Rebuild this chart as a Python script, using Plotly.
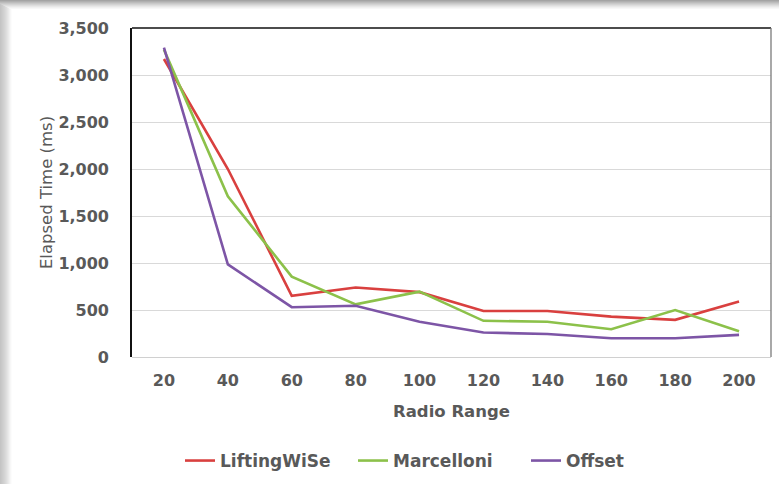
import plotly.graph_objects as go

radio_range = ["20", "40", "60", "80", "100", "120", "140", "160", "180", "200"]
lifting_wise = [3170, 2000, 650, 740, 690, 490, 490, 430, 395, 590]
marcelloni = [3270, 1710, 855, 560, 695, 385, 375, 295, 500, 275]
offset = [3290, 985, 530, 545, 375, 260, 245, 200, 200, 235]
y_ticks = [0, 500, 1000, 1500, 2000, 2500, 3000, 3500]

W, H = 779, 484
L, R, T, B = 132, 8, 28, 127
PW, PH = W - L - R, H - T - B

def px(x):
    return (x - L) / PW

def py(y):
    return (H - B - y) / PH

TXT = "#595959"
FONT = "DejaVu Sans, Verdana, sans-serif"

fig = go.Figure()
for name, vals, col in [("LiftingWiSe", lifting_wise, "#D9403F"),
                        ("Marcelloni", marcelloni, "#8CC14A"),
                        ("Offset", offset, "#7D55A6")]:
    fig.add_trace(go.Scatter(x=radio_range, y=vals, name=name, mode="lines",
                             line=dict(color=col, width=2.6)))

shapes = []
# shadow bands (decorative)
grays = ["#a4a4a4", "#b0b0b0", "#bcbcbc", "#c8c8c8", "#d3d3d3", "#dedede", "#e8e8e8", "#f1f1f1", "#f8f8f8"]
for i, g in enumerate(grays):
    shapes.append(dict(type="rect", xref="paper", yref="paper",
                       x0=px(0), x1=px(W), y0=py(i), y1=py(i + 1),
                       fillcolor=g, line=dict(width=0), layer="below"))
lgrays = ["#c4c4c4", "#c8c8c8", "#cccccc", "#d0d0d0", "#d4d4d4", "#d9d9d9", "#dedede", "#e4e4e4", "#eaeaea", "#f1f1f1", "#f7f7f7", "#fcfcfc"]
for i, g in enumerate(lgrays):
    shapes.append(dict(type="rect", xref="paper", yref="paper",
                       x0=px(i), x1=px(i + 1), y0=py(4 + i * 0.5), y1=py(H),
                       fillcolor=g, line=dict(width=0), layer="below"))
# plot frame lines
shapes.append(dict(type="line", xref="paper", yref="paper", x0=0, x1=1, y0=1, y1=1,
                   line=dict(color="#111111", width=1.6)))
shapes.append(dict(type="line", xref="paper", yref="paper", x0=1, x1=1, y0=0, y1=1,
                   line=dict(color="#7a7a7a", width=1.3)))

fig.update_layout(
    width=W, height=H,
    margin=dict(l=L, r=R, t=T, b=B, autoexpand=False),
    paper_bgcolor="white", plot_bgcolor="white",
    font=dict(family=FONT, color=TXT, size=16),
    shapes=shapes,
    showlegend=True,
    legend=dict(orientation="h", x=px(180), xanchor="left", y=py(461), yanchor="middle",
                font=dict(family=FONT, size=17, color=TXT, weight="bold"),
                itemwidth=30, entrywidth=128, tracegroupgap=0, bgcolor="rgba(0,0,0,0)"),
    xaxis=dict(type="category", range=[-0.5, 9.5], showgrid=False, zeroline=False,
               showline=False, ticks="", ticklabelstandoff=12, automargin=False,
               tickfont=dict(family=FONT, size=16, color=TXT, weight="bold"),
               title=dict(text="Radio Range", standoff=16,
                          font=dict(family=FONT, size=16.5, color=TXT, weight="bold"))),
    yaxis=dict(range=[0, 3500], tickvals=y_ticks, tickformat=",d",
               showgrid=True, gridcolor="#d9d9d9", gridwidth=1,
               zeroline=True, zerolinecolor="#d0d0d0", zerolinewidth=1.3,
               showline=True, linecolor="#111111", linewidth=1.6,
               ticks="", ticklabelstandoff=18, automargin=False,
               tickfont=dict(family=FONT, size=16, color=TXT, weight="bold"),
               title=dict(text="Elapsed Time (ms)", standoff=2,
                          font=dict(family=FONT, size=16.5, color=TXT))),
)

fig.write_html("out.html")
